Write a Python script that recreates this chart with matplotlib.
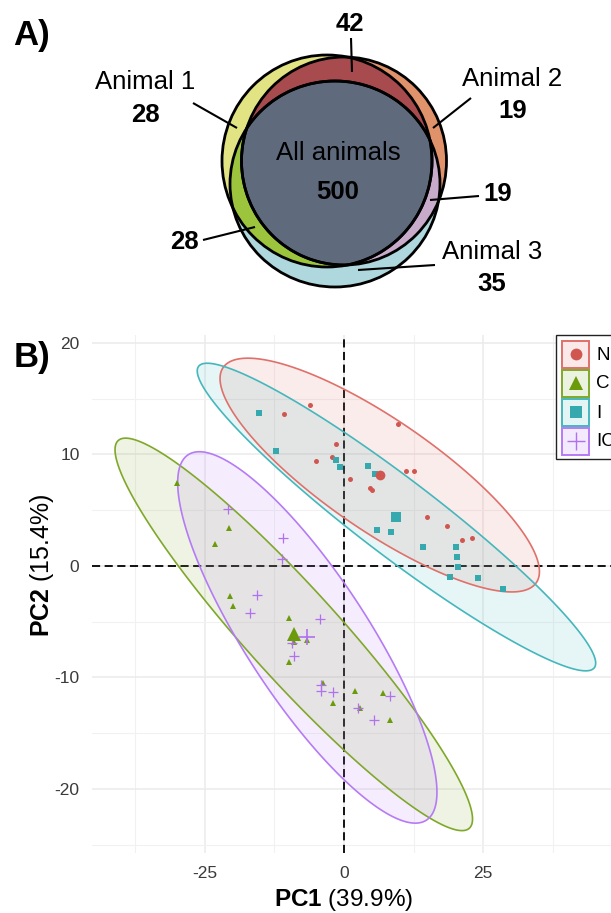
import numpy as np
import matplotlib
matplotlib.use('Agg')
import matplotlib.pyplot as plt
from matplotlib.patches import Ellipse, Polygon, Rectangle

plt.rcParams['font.family'] = ['Liberation Sans', 'DejaVu Sans']
plt.rcParams['mathtext.fontset'] = 'custom'
plt.rcParams['mathtext.rm'] = 'Liberation Sans'
plt.rcParams['mathtext.bf'] = 'Liberation Sans:bold'

# ---------------- Venn data ----------------
venn_set_names = ['Animal 1', 'Animal 2', 'Animal 3']
venn_only_counts = [28, 19, 35]          # Animal 1 only, Animal 2 only, Animal 3 only
venn_pair_counts = [42, 19, 28]          # 1&2, 2&3, 1&3
venn_core_label = 'All animals'
venn_core_count = 500

# ---------------- PCA data ----------------
groups = ['N', 'C', 'I', 'IC']
N_pc1 = [-6.1, -10.8, 9.7, -1.4, -5.1, -2.2, 1.1, 4.6, 5.0, 11.2, 12.6, 15.0, 18.5, 21.2, 23.1]
N_pc2 = [14.4, 13.6, 12.7, 10.9, 9.4, 9.75, 7.8, 7.0, 6.8, 8.5, 8.5, 4.4, 3.6, 2.3, 2.5]
C_pc1 = [-30.1, -20.7, -23.1, -20.5, -20.0, -9.9, -9.0, -6.6, -9.9, -3.7, -1.9, 1.9, 2.8, 7.0, 8.3]
C_pc2 = [7.4, 3.4, 2.0, -2.7, -3.6, -4.7, -6.8, -6.6, -8.6, -10.5, -12.3, -11.2, -12.7, -11.4, -13.8]
I_pc1 = [-15.2, -12.2, -1.4, -0.7, 4.3, 5.5, 5.9, 8.4, 14.2, 20.1, 20.4, 20.5, 19.1, 24.1, 28.5]
I_pc2 = [13.7, 10.3, 9.5, 8.9, 9.0, 8.2, 3.2, 3.0, 1.7, 1.7, 0.8, -0.1, -1.0, -1.1, -2.1]
IC_pc1 = [-20.8, -11.0, -11.2, -15.6, -16.9, -4.3, -9.4, -9.0, -4.1, -4.1, -2.0, 2.5, 8.2, 5.4]
IC_pc2 = [5.1, 2.5, 0.6, -2.6, -4.2, -4.8, -6.9, -8.1, -10.7, -11.2, -11.3, -12.7, -11.7, -13.8]
pc1_var = 39.9
pc2_var = 15.4
x_ticks = [-25, 0, 25]
y_ticks = [-20, -10, 0, 10, 20]

group_x = [N_pc1, C_pc1, I_pc1, IC_pc1]
group_y = [N_pc2, C_pc2, I_pc2, IC_pc2]
line_colors = ['#E0706A', '#7FA82A', '#45B7BC', '#B57BF5']
point_colors = ['#D0574F', '#6B9A0A', '#35A9AE', '#B070F0']
markers = ['o', '^', 's', '+']
small_ms = [3.6, 4.2, 3.8, 6.5]
big_ms = [7.0, 9.5, 7.0, 12.0]


def ellipse_path(xs, ys, level=0.95, seg=200):
    data = np.column_stack([xs, ys])
    center = data.mean(axis=0)
    shape = np.cov(data.T, ddof=1)
    dfd = len(xs) - 1
    # quantile of F(2, dfd)
    fq = dfd / 2.0 * ((1 - level) ** (-2.0 / dfd) - 1)
    radius = np.sqrt(2 * fq)
    ang = np.linspace(0, 2 * np.pi, seg + 1)
    circ = np.column_stack([np.cos(ang), np.sin(ang)])
    L = np.linalg.cholesky(shape)
    return center + radius * circ @ L.T


fig = plt.figure(figsize=(6.11, 9.13), dpi=100)

# ================= Panel A: Venn =================
va = fig.add_axes([0, (913 - 320) / 913, 1, 320 / 913])
va.set_xlim(0, 611)
va.set_ylim(320, 0)
va.axis('off')

ell_specs = [((327, 161), 210, 212), ((344, 161), 205, 208), ((335, 184), 210, 206)]
col_only = ['#E2E382', '#E0926A', '#AED8DD']
col_12 = '#A84B4F'
col_13 = '#9CC43C'
col_23 = '#C8AACB'
col_core = '#5F6B7D'


def mk(i, fc, z):
    c, w, h = ell_specs[i]
    e = Ellipse(c, w, h, facecolor=fc, edgecolor='none', zorder=z)
    va.add_patch(e)
    return e


def clipper(i):
    c, w, h = ell_specs[i]
    return Ellipse(c, w, h, transform=va.transData)


mk(0, col_only[0], 1)
mk(1, col_only[1], 2)
mk(1, col_12, 3).set_clip_path(clipper(0))
mk(2, col_only[2], 4)
mk(2, col_13, 5).set_clip_path(clipper(0))
mk(2, col_23, 6).set_clip_path(clipper(1))

# triple intersection via polar min radius around common interior point
cx, cy = 337, 172
th = np.linspace(0, 2 * np.pi, 721)
rmin = np.full_like(th, np.inf)
for (ex, ey), w, h in ell_specs:
    a, b = w / 2, h / 2
    dx, dy = cx - ex, cy - ey
    ux, uy = np.cos(th), np.sin(th)
    A = (ux / a) ** 2 + (uy / b) ** 2
    B = 2 * (dx * ux / a ** 2 + dy * uy / b ** 2)
    C = (dx / a) ** 2 + (dy / b) ** 2 - 1
    r = (-B + np.sqrt(B ** 2 - 4 * A * C)) / (2 * A)
    rmin = np.minimum(rmin, r)
va.add_patch(Polygon(np.column_stack([cx + rmin * np.cos(th), cy + rmin * np.sin(th)]),
                     closed=True, facecolor=col_core, edgecolor='black', lw=2.0, zorder=7))
for c, w, h in ell_specs:
    va.add_patch(Ellipse(c, w, h, facecolor='none', edgecolor='black', lw=2.0, zorder=8))

fs_v = 18.5
va.text(32, 36, 'A)', fontsize=25, fontweight='bold', ha='center', va='center')
va.text(145, 82, venn_set_names[0], fontsize=fs_v, ha='center', va='center')
va.text(145, 115, str(venn_only_counts[0]), fontsize=fs_v, fontweight='bold', ha='center', va='center')
va.text(512, 79, venn_set_names[1], fontsize=fs_v, ha='center', va='center')
va.text(513, 111, str(venn_only_counts[1]), fontsize=fs_v, fontweight='bold', ha='center', va='center')
va.text(492, 252, venn_set_names[2], fontsize=fs_v, ha='center', va='center')
va.text(492, 284, str(venn_only_counts[2]), fontsize=fs_v, fontweight='bold', ha='center', va='center')
va.text(350, 24, str(venn_pair_counts[0]), fontsize=fs_v, fontweight='bold', ha='center', va='center')
va.text(498, 194, str(venn_pair_counts[1]), fontsize=fs_v, fontweight='bold', ha='center', va='center')
va.text(184, 242, str(venn_pair_counts[2]), fontsize=fs_v, fontweight='bold', ha='center', va='center')
va.text(338, 153, venn_core_label, fontsize=fs_v, ha='center', va='center', zorder=10)
va.text(338, 192, str(venn_core_count), fontsize=fs_v, fontweight='bold', ha='center', va='center', zorder=10)
leader = [((351, 38), (352, 72)), ((193, 103), (237, 128)), ((471, 98), (433, 128)),
          ((479, 196), (430, 200)), ((203, 240), (255, 227)), ((435, 265), (358, 270))]
for (x0, y0), (x1, y1) in leader:
    va.plot([x0, x1], [y0, y1], color='black', lw=1.5, zorder=12, solid_capstyle='butt')

# ================= Panel B: PCA =================
ax = fig.add_axes([92 / 611, (913 - 853) / 913, (611 - 92) / 611, (853 - 335) / 913])
ax.set_xlim(-45.3, 48.0)
ax.set_ylim(-25.74, 20.7)
for s in ax.spines.values():
    s.set_visible(False)
ax.set_xticks(x_ticks)
ax.set_yticks(y_ticks)
ax.set_xticks([-37.5, -12.5, 12.5, 37.5], minor=True)
ax.set_yticks([-25, -15, -5, 5, 15], minor=True)
ax.tick_params(which='both', length=0)
ax.tick_params(labelsize=12.5, labelcolor='#3A3A3A', pad=9)
ax.set_xticklabels([str(t) for t in x_ticks])
ax.set_yticklabels([str(t) for t in y_ticks])
ax.grid(which='major', color='#EBEBEB', lw=1.1, zorder=0)
ax.grid(which='minor', color='#F1F1F1', lw=0.8, zorder=0)
ax.set_axisbelow(True)

ax.axhline(0, color='black', lw=1.3, dashes=(4.5, 2.5), zorder=1)
ax.axvline(0, color='black', lw=1.3, dashes=(4.5, 2.5), zorder=1)

for i in range(4):
    pts = ellipse_path(group_x[i], group_y[i])
    ax.add_patch(Polygon(pts, closed=True, facecolor=line_colors[i], alpha=0.13,
                         edgecolor='none', zorder=2))
    ax.add_patch(Polygon(pts, closed=True, facecolor='none', edgecolor=line_colors[i],
                         lw=1.2, zorder=3))
for i in range(4):
    mew = 0.9 if markers[i] == '+' else 0
    ax.plot(group_x[i], group_y[i], ls='none', marker=markers[i], ms=small_ms[i],
            color=point_colors[i], mew=mew, zorder=4)
    ax.plot([np.mean(group_x[i])], [np.mean(group_y[i])], ls='none', marker=markers[i],
            ms=big_ms[i], color=point_colors[i], mew=1.2 if markers[i] == '+' else 0, zorder=5)

ax.set_xlabel(r'$\mathbf{PC1}$ (%.1f%%)' % pc1_var, fontsize=17.5)
ax.set_ylabel(r'$\mathbf{PC2}$ (%.1f%%)' % pc2_var, fontsize=18)
ax.xaxis.set_label_coords((344 - 92) / (611 - 92), -(900 - 853) / (853 - 335), transform=ax.transAxes)
ax.xaxis.label.set_va('center')
ax.yaxis.set_label_coords(-(92 - 42) / (611 - 92), (853 - 565) / (853 - 335), transform=ax.transAxes)
ax.yaxis.label.set_va('center')

# ================= overlay: labels + legend =================
ov = fig.add_axes([0, 0, 1, 1], zorder=20)
ov.set_xlim(0, 611)
ov.set_ylim(913, 0)
ov.axis('off')
ov.patch.set_alpha(0)
ov.text(32, 357, 'B)', fontsize=25, fontweight='bold', ha='center', va='center')

ov.add_patch(Rectangle((556, 335), 80, 124, facecolor='white', edgecolor='#222222', lw=1.0))
for i, g in enumerate(groups):
    y0 = 341 + 29 * i
    ov.add_patch(Rectangle((562, y0), 27, 27, facecolor=line_colors[i], alpha=0.15,
                           edgecolor='none'))
    ov.add_patch(Rectangle((562, y0), 27, 27, facecolor='none', edgecolor=line_colors[i], lw=1.4))
    ms = {'o': 8.5, '^': 10.5, 's': 8.0, '+': 12.5}[markers[i]]
    ov.plot([575.5], [y0 + 13.5], ls='none', marker=markers[i], ms=ms, color=point_colors[i],
            mew=1.0 if markers[i] == '+' else 0)
    ov.text(596, y0 + 14, g, fontsize=13.5, ha='left', va='center', color='black')

fig.savefig('out.png', dpi=100)
